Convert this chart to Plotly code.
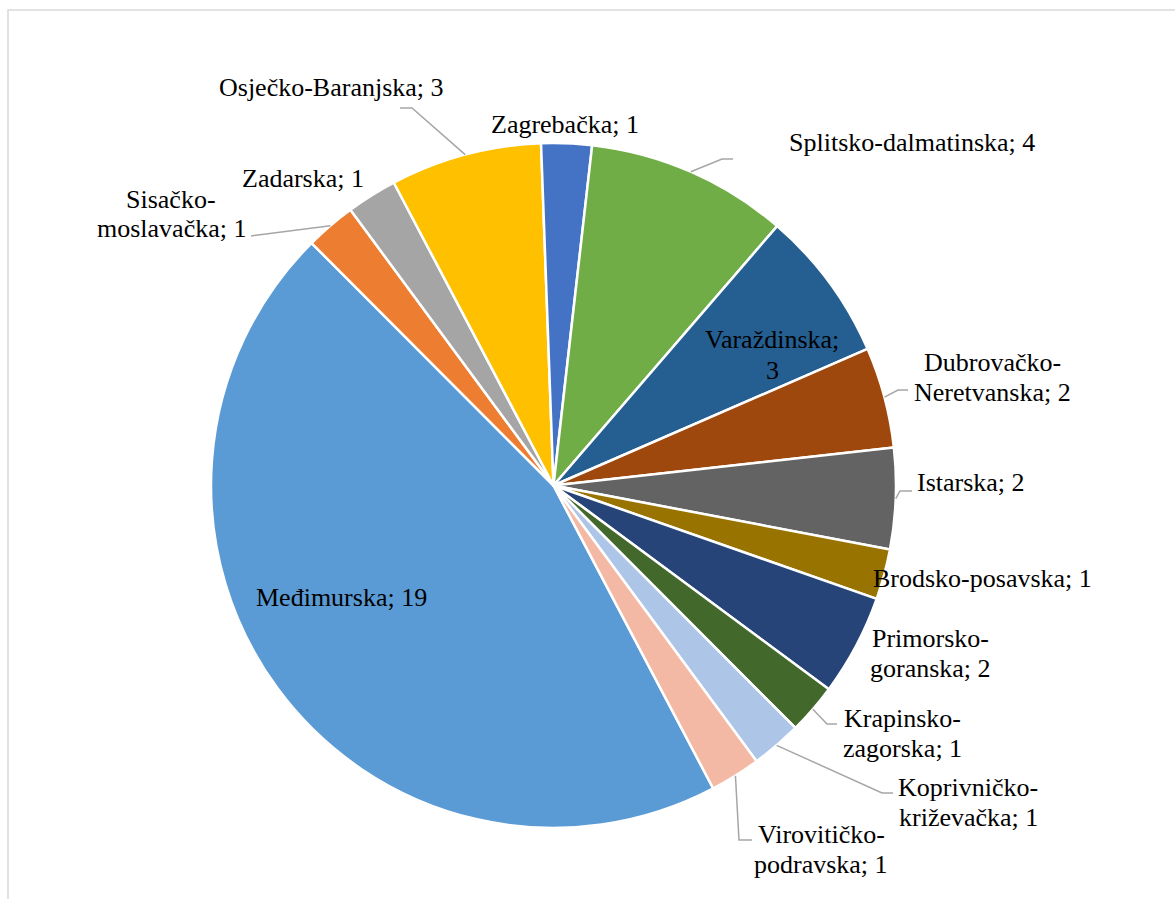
import math
import plotly.graph_objects as go

W, H = 1175, 899

# ---- data (Excel order, clockwise) ----
counties = ["Međimurska", "Sisačko-moslavačka", "Zadarska", "Osječko-Baranjska",
            "Zagrebačka", "Splitsko-dalmatinska", "Varaždinska", "Dubrovačko-Neretvanska",
            "Istarska", "Brodsko-posavska", "Primorsko-goranska", "Krapinsko-zagorska",
            "Koprivničko-križevačka", "Virovitičko-podravska"]
counts = [19, 1, 1, 3, 1, 4, 3, 2, 2, 1, 2, 1, 1, 1]

# ---- styles ----
colors = ["#5B9BD5", "#ED7D31", "#A5A5A5", "#FFC000", "#4472C4", "#70AD47",
          "#255E91", "#9E480E", "#636363", "#997300", "#264478", "#43682B",
          "#ADC5E7", "#F4B9A5"]
# how each label wraps: none / hyphen / space
wrap = ["none", "hyphen", "none", "none", "none", "none", "space", "hyphen",
        "none", "none", "hyphen", "hyphen", "hyphen", "hyphen"]
# label centre (pixel x, first-line pixel y)
label_pos = [(341, 597), (171, 199), (303, 179), (331, 88), (565, 124), (912, 142),
             (772, 340), (992, 362), (971, 482), (982, 578), (930, 638), (902, 718),
             (968, 787), (821, 834)]
line_gap = 30
# leader line elbow and end points (pixels), None = no leader
leaders = [None, ((258, 235), (251, 236)), None, ((412, 108), (400, 108)), None,
           ((722, 159), (733, 159)), None, ((898, 390), (908, 390)),
           ((900, 491), (912, 491)), None, None, ((827, 724), (837, 724)),
           ((882, 793), (893, 793)), ((739, 840), (752, 840))]

rotation = 152.2
cx, cy, R = 553.5, 485.5, 342.5


def px(x):
    return x / W


def py(y):
    return 1 - y / H


fig = go.Figure(go.Pie(
    labels=counties, values=counts, sort=False, direction="clockwise",
    rotation=rotation, textinfo="none", hoverinfo="label+value",
    marker=dict(colors=colors, line=dict(color="white", width=2.5)),
    domain=dict(x=[px(cx - R), px(cx + R)], y=[py(cy + R), py(cy - R)]),
    showlegend=False,
))

annotations = []
shapes = []
total = sum(counts)
cum = 0
for i, (name, v) in enumerate(zip(counties, counts)):
    text = f"{name}; {v}"
    if wrap[i] == "hyphen":
        a, b = name.split("-", 1)
        lines = [a + "-", f"{b}; {v}"]
    elif wrap[i] == "space":
        lines = [f"{name};", f"{v}"]
    else:
        lines = [text]
    lx, ly = label_pos[i]
    for k, ln in enumerate(lines):
        annotations.append(dict(
            x=px(lx), y=py(ly + k * line_gap), xref="paper", yref="paper",
            text=ln, showarrow=False, xanchor="center", yanchor="middle",
            font=dict(family="Liberation Serif, Times New Roman, serif", size=26, color="#000000"),
        ))
    mid = math.radians(rotation + (cum + v / 2) / total * 360)
    cum += v
    if leaders[i] is not None:
        sx = cx + R * math.sin(mid)
        sy = cy - R * math.cos(mid)
        (ex, ey), (fx, fy) = leaders[i]
        path = f"M {px(sx)} {py(sy)} L {px(ex)} {py(ey)} L {px(fx)} {py(fy)}"
        shapes.append(dict(type="path", xref="paper", yref="paper", path=path,
                           line=dict(color="#A6A6A6", width=1.5)))

# chart area border
shapes.append(dict(type="rect", xref="paper", yref="paper",
                   x0=px(8), x1=px(W + 20), y0=py(H + 20), y1=py(10),
                   line=dict(color="#D9D9D9", width=1.5), fillcolor="rgba(0,0,0,0)"))

fig.update_layout(
    width=W, height=H, margin=dict(l=0, r=0, t=0, b=0),
    paper_bgcolor="white", plot_bgcolor="white",
    annotations=annotations, shapes=shapes,
)

fig.write_html("out.html", config={"displayModeBar": False},
               post_script="document.body.style.margin='0';")
